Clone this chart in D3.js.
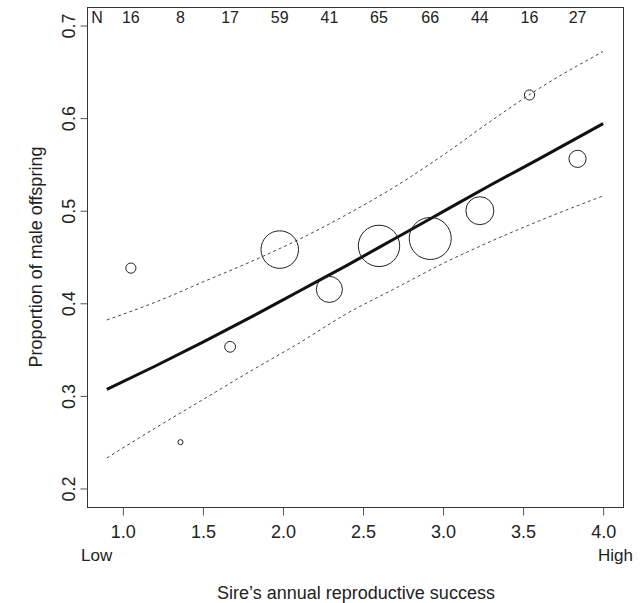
<!DOCTYPE html>
<html>
<head>
<meta charset="utf-8">
<script src="https://cdn.jsdelivr.net/npm/d3@7"></script>
<style>
  html, body { margin: 0; padding: 0; background: #fff; }
  text { font-family: "Liberation Sans", Arial, Helvetica, sans-serif; fill: #222; }
</style>
</head>
<body>
<svg id="chart" width="642" height="603"></svg>
<script>
// ---- data ----
const siteX      = [1.05, 1.36, 1.67, 1.98, 2.29, 2.60, 2.92, 3.23, 3.54, 3.84];
const propMale   = [0.438, 0.250, 0.353, 0.458, 0.415, 0.462, 0.470, 0.500, 0.625, 0.556];
const sampleN    = [16, 8, 17, 59, 41, 65, 66, 44, 16, 27];

const fitX       = [0.9, 1.2, 1.5, 1.8, 2.1, 2.4, 2.7, 3.0, 3.3, 3.6, 4.0];
const fitY       = [0.307, 0.332, 0.358, 0.385, 0.413, 0.441, 0.470, 0.499, 0.528, 0.556, 0.594];
const upperY     = [0.382, 0.401, 0.423, 0.445, 0.469, 0.496, 0.526, 0.560, 0.597, 0.632, 0.672];
const lowerY     = [0.233, 0.265, 0.296, 0.327, 0.357, 0.389, 0.416, 0.443, 0.467, 0.489, 0.516];

const xTicks     = [1.0, 1.5, 2.0, 2.5, 3.0, 3.5, 4.0];
const yTicks     = [0.2, 0.3, 0.4, 0.5, 0.6, 0.7];

// ---- layout ----
const svg = d3.select("#chart");
const box = { left: 87, right: 623, top: 7, bottom: 507 };

const x = d3.scaleLinear().domain([0.776, 4.124]).range([box.left, box.right]);
const y = d3.scaleLinear().domain([0.18, 0.72]).range([box.bottom, box.top]);
const r = d3.scaleLinear().domain([0, 66]).range([0, 21]);

// plot frame
svg.append("rect")
  .attr("x", box.left + 0.5).attr("y", box.top + 0.5)
  .attr("width", box.right - box.left).attr("height", box.bottom - box.top)
  .attr("fill", "none").attr("stroke", "#333").attr("stroke-width", 1);

// y axis
const yAxis = d3.axisLeft(y).tickValues(yTicks).tickSize(7).tickFormat(d3.format(".1f"));
const gy = svg.append("g").attr("transform", `translate(${box.left + 0.5},0)`).call(yAxis);
gy.select(".domain").remove();
gy.selectAll(".tick line").attr("stroke", "#555");
gy.selectAll(".tick text")
  .attr("x", null).attr("dy", null)
  .attr("text-anchor", "middle")
  .attr("transform", "translate(-13,0) rotate(-90)")
  .attr("font-size", 18).attr("fill", "#222")
  .style("font-family", '"Liberation Sans", Arial, sans-serif');

// x axis
const xAxis = d3.axisBottom(x).tickValues(xTicks).tickSize(8).tickFormat(d3.format(".1f"));
const gx = svg.append("g").attr("transform", `translate(0,${box.bottom + 0.5})`).call(xAxis);
gx.select(".domain").remove();
gx.selectAll(".tick line").attr("stroke", "#555");
gx.selectAll(".tick text")
  .attr("y", 30).attr("dy", null)
  .attr("font-size", 18).attr("fill", "#222")
  .style("font-family", '"Liberation Sans", Arial, sans-serif');

// Low / High
svg.append("text").attr("x", 81).attr("y", 561).attr("font-size", 17).text("Low");
svg.append("text").attr("x", 633).attr("y", 561).attr("font-size", 17)
  .attr("text-anchor", "end").text("High");

// axis titles
svg.append("text").attr("x", (box.left + box.right) / 2 + 1).attr("y", 599)
  .attr("text-anchor", "middle").attr("font-size", 18)
  .text("Sire\u2019s annual reproductive success");
svg.append("text")
  .attr("transform", `translate(42,${(box.top + box.bottom) / 2}) rotate(-90)`)
  .attr("text-anchor", "middle").attr("font-size", 18)
  .text("Proportion of male offspring");

// confidence bands
const line = d3.line().curve(d3.curveMonotoneX);
[upperY, lowerY].forEach(arr => {
  svg.append("path")
    .attr("d", line(fitX.map((v, i) => [x(v), y(arr[i])])))
    .attr("fill", "none").attr("stroke", "#333")
    .attr("stroke-width", 0.9).attr("stroke-dasharray", "3,3");
});

// fitted line
svg.append("path")
  .attr("d", line(fitX.map((v, i) => [x(v), y(fitY[i])])))
  .attr("fill", "none").attr("stroke", "#111").attr("stroke-width", 3);

// points
svg.append("g").selectAll("circle").data(siteX).join("circle")
  .attr("cx", d => x(d))
  .attr("cy", (d, i) => y(propMale[i]))
  .attr("r", (d, i) => r(sampleN[i]))
  .attr("fill", "none").attr("stroke", "#222").attr("stroke-width", 1);

// N labels
const nFont = '"Liberation Sans Narrow", "Liberation Sans", Arial, sans-serif';
svg.append("text").attr("x", 97).attr("y", 23).attr("text-anchor", "middle")
  .attr("font-size", 16).style("font-family", nFont).text("N");
svg.append("g").selectAll("text").data(sampleN).join("text")
  .attr("x", (d, i) => x(siteX[i]))
  .attr("y", 23)
  .attr("text-anchor", "middle")
  .attr("font-size", 16)
  .style("font-family", nFont)
  .text(d => d);
</script>
</body>
</html>
